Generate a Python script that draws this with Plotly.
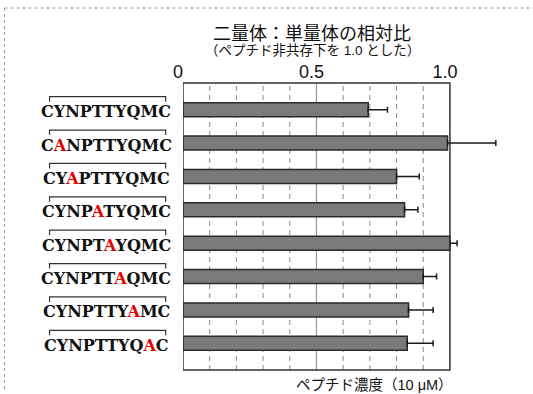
import plotly.graph_objects as go

# Peptide variants (alanine substitution shown in red) and dimer:monomer ratios
peptides = [
    "CYNPTTYQMC",
    "C<span style='color:#e60000'>A</span>NPTTYQMC",
    "CY<span style='color:#e60000'>A</span>PTTYQMC",
    "CYNP<span style='color:#e60000'>A</span>TYQMC",
    "CYNPT<span style='color:#e60000'>A</span>YQMC",
    "CYNPTT<span style='color:#e60000'>A</span>QMC",
    "CYNPTTY<span style='color:#e60000'>A</span>MC",
    "CYNPTTYQ<span style='color:#e60000'>A</span>C",
]
ratio = [0.694, 0.991, 0.80, 0.83, 1.0, 0.90, 0.845, 0.84]
ratio_err = [0.072, 0.181, 0.085, 0.05, 0.027, 0.05, 0.092, 0.097]

tick_vals = [0, 0.5, 1.0]
tick_text = ["0", "0.5", "1.0"]
grid_vals = [0.1, 0.2, 0.3, 0.4, 0.6, 0.7, 0.8, 0.9]

X_MAX = 1.3  # axis runs past 1.0 so error bars are not clipped


def px(v):
    """Convert an x value in axis units to paper units."""
    return v / X_MAX


positions = list(range(len(ratio)))

fig = go.Figure()
fig.add_trace(go.Bar(
    x=ratio,
    y=positions,
    orientation="h",
    width=0.42,
    marker=dict(color="#7a7a7a", line=dict(color="#2a2a2a", width=1.5)),
    error_x=dict(type="data", array=ratio_err, arrayminus=[0] * len(ratio),
                 symmetric=False, color="#1a1a1a", thickness=1.5, width=3),
    hoverinfo="skip",
))

shapes = []
annotations = []

# Dashed guides every 0.1, solid guide at 0.5
for g in grid_vals:
    shapes.append(dict(type="line", xref="x", yref="paper", x0=g, x1=g, y0=0, y1=1,
                       layer="below", line=dict(color="#8a8a8a", width=1, dash="5px,4px")))
shapes.append(dict(type="line", xref="x", yref="paper", x0=0.5, x1=0.5, y0=0, y1=1,
                   layer="below", line=dict(color="#9a9a9a", width=1.2)))
# Plot frame spanning 0 to 1.0
shapes.append(dict(type="rect", xref="x", yref="paper", x0=0, x1=1.0, y0=0, y1=1,
                   layer="above", line=dict(color="#333333", width=1.5)))

serif = "DejaVu Serif, Liberation Serif, serif"
for i, label in enumerate(peptides):
    # Disulfide bracket linking the first and last cysteine
    xa, xb = px(-0.4999), px(-0.0649)
    shapes.append(dict(
        type="path", xref="paper", yref="y",
        path=f"M {xa} {i - 0.24} L {xa} {i - 0.39} L {xb} {i - 0.39} L {xb} {i - 0.24}",
        line=dict(color="#333333", width=1.2),
    ))
    annotations.append(dict(
        text=f"<b>{label}</b>", xref="paper", yref="y",
        x=px(-0.288), y=i + 0.06, xanchor="center", yanchor="middle",
        showarrow=False, font=dict(family=serif, size=16, color="#111111"),
    ))

# Dotted page frame along top and left
shapes.append(dict(type="line", xref="paper", yref="paper",
                   x0=px(-0.6686), x1=1.02, y0=1.2613, y1=1.2613,
                   line=dict(color="#9a9a9a", width=1, dash="dot")))
shapes.append(dict(type="line", xref="paper", yref="paper",
                   x0=px(-0.6686), x1=px(-0.6686), y0=1.2613, y1=-0.0697,
                   line=dict(color="#9a9a9a", width=1, dash="dot")))

jp = "Liberation Sans, Noto Sans CJK JP, sans-serif"
annotations += [
    dict(text="二量体：単量体の相対比", xref="paper", yref="paper",
         x=px(0.4845), y=1.1705, xanchor="center", yanchor="middle", showarrow=False,
         font=dict(family=jp, size=18, color="#111111")),
    dict(text="（ペプチド非共存下を 1.0 とした）", xref="paper", yref="paper",
         x=px(0.4845), y=1.1135, xanchor="center", yanchor="middle", showarrow=False,
         font=dict(family=jp, size=13.5, color="#111111")),
    dict(text="ペプチド濃度（10 μM）", xref="paper", yref="paper",
         x=px(1.02), y=-0.052, xanchor="right", yanchor="middle", showarrow=False,
         font=dict(family=jp, size=14.5, color="#111111")),
]

fig.update_layout(
    width=533, height=394,
    margin=dict(l=183, r=3, t=83, b=24),
    paper_bgcolor="white", plot_bgcolor="white",
    showlegend=False,
    shapes=shapes,
    annotations=annotations,
    xaxis=dict(
        side="top", range=[0, X_MAX], tickvals=tick_vals, ticktext=tick_text,
        ticks="", ticklabelshift=-5,
        tickfont=dict(family="Liberation Sans, Arial, sans-serif", size=18, color="#111111"),
        showgrid=False, showline=False, zeroline=False, fixedrange=True,
    ),
    yaxis=dict(
        range=[7.8, -0.8], showticklabels=False, ticks="", showgrid=False,
        showline=False, zeroline=False, fixedrange=True,
    ),
)

fig.write_html("out.html")
